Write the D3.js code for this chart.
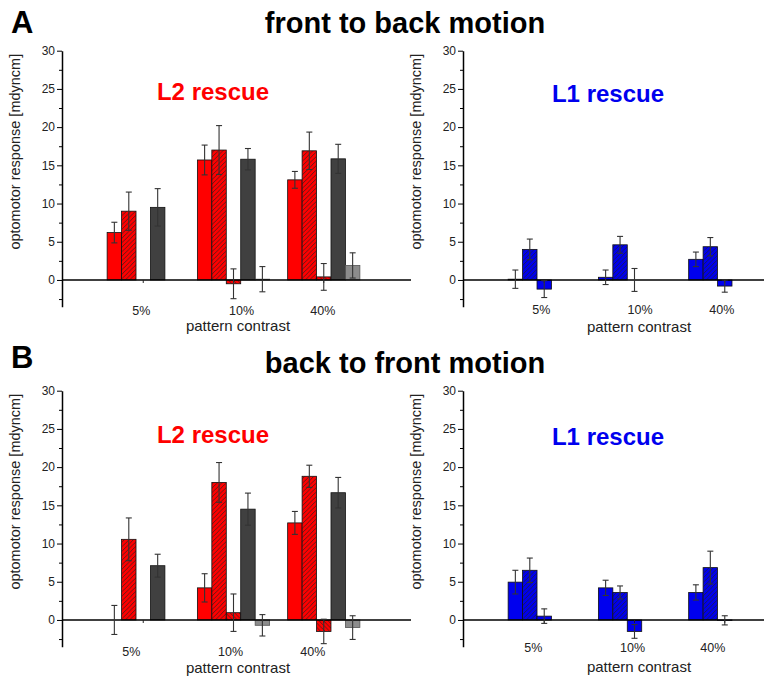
<!doctype html>
<html lang="en">
<head>
    <meta charset="UTF-8">
    <title>Optomotor response</title>
    <script src="https://cdnjs.cloudflare.com/ajax/libs/d3/7.8.5/d3.min.js"></script>
    <style>
        html, body {
            margin: 0;
            padding: 0;
            background: #fff;
            overflow: hidden;
        }
        svg {
            font-family: "Liberation Sans", Arial, sans-serif;
        }
        .tick text {
            font-size: 12px;
            fill: #222;
        }
        .xlab .tick text {
            font-size: 12.5px;
        }
    </style>
</head>
<body>
<svg id="chart" width="764" height="676"></svg>
<script>
    const categories = ["5%", "10%", "40%"];
    const yTicks = [0, 5, 10, 15, 20, 25, 30];
    const yMinorTicks = [-2.5, 2.5, 7.5, 12.5, 17.5, 22.5, 27.5];

    // front to back motion, L2 rescue: one row per bar series, one column per contrast
    const ftbL2Values = [
        [6.2, 15.7, 13.1],
        [9.0, 17.0, 16.9],
        [null, -0.5, 0.4],
        [9.5, 15.8, 15.85],
        [null, 0.1, 1.9]
    ];
    const ftbL2Errors = [
        [1.35, 1.95, 1.1],
        [2.5, 3.2, 2.45],
        [null, 1.95, 1.75],
        [2.45, 1.4, 1.9],
        [null, 1.65, 1.65]
    ];

    // front to back motion, L1 rescue
    const ftbL1Values = [
        [0.1, 0.35, 2.7],
        [4.0, 4.6, 4.35],
        [-1.2, 0.0, -0.8]
    ];
    const ftbL1Errors = [
        [1.2, 0.95, 0.95],
        [1.35, 1.1, 1.2],
        [1.1, 1.5, 0.8]
    ];

    // back to front motion, L2 rescue
    const btfL2Values = [
        [0, 4.2, 12.7],
        [10.55, 18.0, 18.8],
        [null, 0.95, -1.5],
        [7.1, 14.5, 16.65],
        [null, -0.7, -1.0]
    ];
    const btfL2Errors = [
        [1.9, 1.85, 1.5],
        [2.8, 2.6, 1.45],
        [null, 2.45, 1.6],
        [1.5, 2.1, 2.0],
        [null, 1.4, 1.55]
    ];

    // back to front motion, L1 rescue
    const btfL1Values = [
        [4.95, 4.2, 3.6],
        [6.5, 3.6, 6.85],
        [0.5, -1.5, -0.05]
    ];
    const btfL1Errors = [
        [1.55, 1.0, 1.0],
        [1.6, 0.85, 2.15],
        [0.95, 0.9, 0.6]
    ];

    const red = "#ff0000", blue = "#0000ee";
    const l2Styles = [
        {fill: red}, {fill: red, hatch: "fwd"}, {fill: red, hatch: "back"},
        {fill: "#404040"}, {fill: "#8c8c8c", stroke: "#555"}
    ];
    const l1Styles = [{fill: blue}, {fill: blue, hatch: "fwd"}, {fill: blue}];

    const svg = d3.select("#chart");
    svg.append("rect").attr("width", 764).attr("height", 676).attr("fill", "#fff");

    // hatch patterns
    const defs = svg.append("defs");
    [["red", red], ["blue", blue]].forEach(([name, col]) => {
        [["fwd", "M-1,1 l2,-2 M0,4.5 l4.5,-4.5 M3.5,5.5 l2,-2"],
         ["back", "M-1,3.5 l2,2 M0,0 l4.5,4.5 M3.5,-1 l2,2"]].forEach(([dir, path]) => {
            const p = defs.append("pattern")
                .attr("id", `hatch-${name}-${dir}`)
                .attr("patternUnits", "userSpaceOnUse")
                .attr("width", 4.5).attr("height", 4.5);
            p.append("rect").attr("width", 4.5).attr("height", 4.5).attr("fill", col);
            p.append("path").attr("d", path).attr("stroke", "#222").attr("stroke-width", 0.7);
        });
    });

    function fillFor(st) {
        if (!st.hatch) return st.fill;
        return `url(#hatch-${st.fill === red ? "red" : "blue"}-${st.hatch})`;
    }

    const plotH = 256;   // -3.5 .. 30
    const lineW = 349;

    function drawPanel(p) {
        const g = svg.append("g").attr("transform", `translate(${p.x0},${p.top})`);

        const y = d3.scaleLinear().domain([-3.5, 30]).range([plotH, 0]);
        const x = d3.scaleBand().domain(categories).range([0, 343])
            .paddingInner(0.2).paddingOuter(0.5);
        const xs = d3.scaleBand().domain(d3.range(5)).range([0, x.bandwidth()]);

        // bars
        p.values.forEach((row, s) => {
            const data = categories.map((c, i) => ({c: c, v: row[i], e: p.errors[s][i]}))
                .filter(d => d.v !== null);
            const st = p.styles[s];
            g.selectAll(null).data(data).enter().append("rect")
                .attr("x", d => x(d.c) + xs(s))
                .attr("y", d => y(Math.max(0, d.v)))
                .attr("width", xs.bandwidth())
                .attr("height", d => Math.abs(y(d.v) - y(0)))
                .attr("fill", fillFor(st))
                .attr("stroke", st.stroke || "#111")
                .attr("stroke-width", 0.8);
        });

        // zero line
        g.append("line")
            .attr("x1", 0).attr("x2", lineW)
            .attr("y1", y(0)).attr("y2", y(0))
            .attr("stroke", "#000").attr("stroke-width", 1.5);

        // x ticks + labels
        const xa = g.append("g")
            .attr("class", "xlab")
            .attr("transform", `translate(0,${y(0)})`)
            .call(d3.axisBottom(x).tickSize(3));
        xa.select(".domain").remove();
        xa.selectAll(".tick line").attr("stroke", "#222");
        xa.selectAll(".tick text")
            .attr("x", (d, i) => p.labelShift[i])
            .attr("y", p.labelY)
            .attr("dy", 0);

        // error bars
        p.values.forEach((row, s) => {
            const data = categories.map((c, i) => ({c: c, v: row[i], e: p.errors[s][i]}))
                .filter(d => d.v !== null);
            const cx = d => x(d.c) + xs(s) + xs.bandwidth() / 2;
            const eb = g.selectAll(null).data(data).enter().append("g")
                .attr("stroke", "#333").attr("stroke-width", 1.1);
            eb.append("line")
                .attr("x1", cx).attr("x2", cx)
                .attr("y1", d => y(d.v - d.e)).attr("y2", d => y(d.v + d.e));
            eb.append("line")
                .attr("x1", d => cx(d) - 3).attr("x2", d => cx(d) + 3)
                .attr("y1", d => y(d.v + d.e)).attr("y2", d => y(d.v + d.e));
            eb.append("line")
                .attr("x1", d => cx(d) - 3).attr("x2", d => cx(d) + 3)
                .attr("y1", d => y(d.v - d.e)).attr("y2", d => y(d.v - d.e));
        });

        // y axis
        const ya = g.append("g")
            .call(d3.axisLeft(y).tickValues(yTicks).tickSize(5).tickSizeOuter(0).tickPadding(2));
        ya.select(".domain").attr("stroke-width", 1.5);
        const ym = g.append("g")
            .call(d3.axisLeft(y).tickValues(yMinorTicks).tickSize(3).tickFormat(""));
        ym.select(".domain").remove();

        g.append("text")
            .attr("transform", `translate(-47,101) rotate(-90)`)
            .attr("text-anchor", "middle")
            .attr("dy", "0.35em")
            .attr("font-size", 14.5)
            .attr("fill", "#222")
            .text("optomotor response [mdyncm]");

        g.append("text")
            .attr("x", 176).attr("y", p.xTitleY)
            .attr("text-anchor", "middle")
            .attr("font-size", 15)
            .attr("fill", "#222")
            .text("pattern contrast");

        g.append("text")
            .attr("x", p.nameX).attr("y", p.nameY)
            .attr("text-anchor", "middle")
            .attr("font-size", 24)
            .attr("font-weight", "bold")
            .attr("fill", p.nameColor)
            .text(p.name);
    }

    drawPanel({x0: 62, top: 50.7, values: ftbL2Values, errors: ftbL2Errors, styles: l2Styles,
        labelShift: [-2, 8, -1], labelY: 35, xTitleY: 280, name: "L2 rescue", nameColor: red,
        nameX: 151, nameY: 49.5});
    drawPanel({x0: 463, top: 50.7, values: ftbL1Values, errors: ftbL1Errors, styles: l1Styles,
        labelShift: [-3, 5.5, -3], labelY: 34, xTitleY: 281, name: "L1 rescue", nameColor: blue,
        nameX: 145, nameY: 51});
    drawPanel({x0: 62, top: 390.7, values: btfL2Values, errors: btfL2Errors, styles: l2Styles,
        labelShift: [-12, -3, -11], labelY: 36, xTitleY: 282, name: "L2 rescue", nameColor: red,
        nameX: 151, nameY: 52.5});
    drawPanel({x0: 463, top: 390.7, values: btfL1Values, errors: btfL1Errors, styles: l1Styles,
        labelShift: [-11, -2, -12], labelY: 32, xTitleY: 281, name: "L1 rescue", nameColor: blue,
        nameX: 145, nameY: 54});

    // panel letters and titles
    const heads = [["A", "front to back motion", 33], ["B", "back to front motion", 373]];
    heads.forEach(([letter, title, base]) => {
        svg.append("text")
            .attr("x", 11).attr("y", base + (letter === "B" ? -5 : 0))
            .attr("font-size", 31).attr("font-weight", "bold")
            .text(letter);
        svg.append("text")
            .attr("x", 405).attr("y", base)
            .attr("text-anchor", "middle")
            .attr("font-size", 29).attr("font-weight", "bold")
            .text(title);
    });
</script>
</body>
</html>
